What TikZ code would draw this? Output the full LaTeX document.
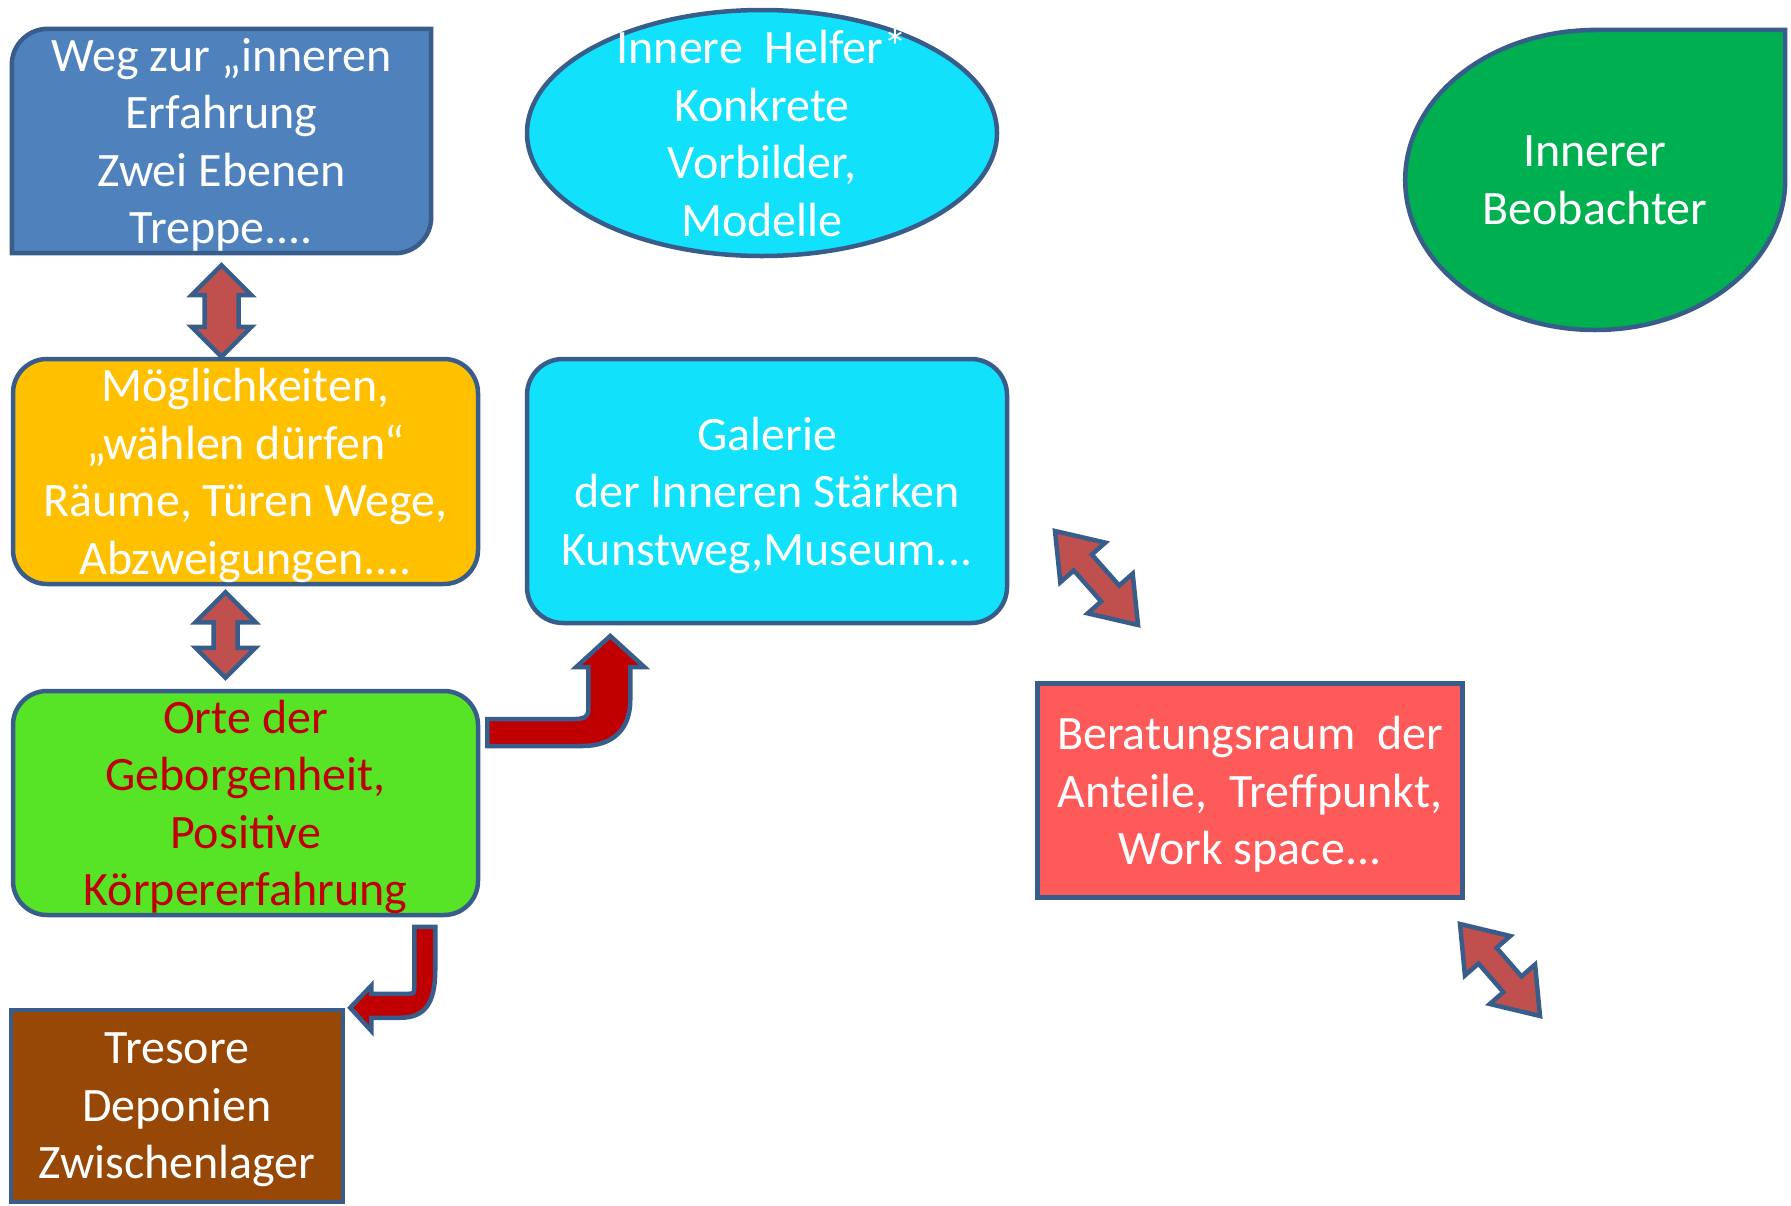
\documentclass[tikz,border=0pt]{standalone}
\usepackage{fontspec}
\setmainfont{Carlito}
\usepackage{tikz}
\usetikzlibrary{calc, backgrounds}
\definecolor{rim}{RGB}{56, 93, 138}
\definecolor{wegblue}{RGB}{79, 129, 189}
\definecolor{moegorange}{RGB}{255, 192, 0}
\definecolor{ortegreen}{RGB}{88, 228, 38}
\definecolor{helfercyan}{RGB}{18, 225, 252}
\definecolor{beobgreen}{RGB}{0, 176, 80}
\definecolor{beratred}{RGB}{255, 90, 90}
\definecolor{tresorbrown}{RGB}{151, 72, 7}
\definecolor{arrowred}{RGB}{192, 80, 77}
\definecolor{darkred}{RGB}{192, 0, 0}
\newcommand*{\lw}{4.5}

\begin{document}
\begin{tikzpicture}[
   x=1pt, y=-1pt,
   every node/.style={font=\fontsize{48}{57.5}\selectfont, text depth=0pt},
   box/.style={rectangle, align=center, text=white, inner sep=0,
               draw=rim, line width=\lw},
   roundbox/.style={box, rounded corners=34},
   textonly/.style={rectangle, align=center, text=white, inner sep=0},
   shapeline/.style={draw=rim, line width=\lw},
   twoway/.style={draw=rim, fill=arrowred, line width=\lw, line join=miter},
   bent/.style={draw=rim, fill=darkred, line width=\lw, line join=miter}
  ]

  \useasboundingbox (0, 0) rectangle (1791, 1205);

  % Boxes
  \node (weg) at (221.5, 141) [textonly, minimum width=419, minimum height=224]
    {Weg zur „inneren\\Erfahrung\\Zwei Ebenen\\Treppe....};

  \node (moeg) at (245.5, 471.5) [roundbox, fill=moegorange, minimum width=465, minimum height=225]
    {Möglichkeiten,\\„wählen dürfen“\\Räume, Türen Wege,\\Abzweigungen....};

  \node (orte) at (245.5, 803) [roundbox, fill=ortegreen, text=darkred, minimum width=465, minimum height=224]
    {Orte der\\Geborgenheit,\\Positive\\Körpererfahrung};

  \node (tresore) at (177, 1106) [box, fill=tresorbrown, minimum width=332, minimum height=192]
    {Tresore\\Deponien\\Zwischenlager};

  \node (helfer) at (762, 133) [textonly, minimum width=470, minimum height=246]
    {Innere~~Helfer*\\Konkrete\\Vorbilder,\\Modelle};

  \node (galerie) at (767, 491) [roundbox, fill=helfercyan, rounded corners=36, minimum width=480, minimum height=264]
    {Galerie\\der Inneren Stärken\\Kunstweg,Museum...};

  \node (berat) at (1250, 790.5) [box, fill=beratred, minimum width=425, minimum height=214]
    {Beratungsraum~~der\\Anteile,~~Treffpunkt,\\Work space...};

  \node (beob) at (1595, 180) [textonly, minimum width=380, minimum height=300]
    {Innerer\\Beobachter};

  \begin{scope}[on background layer]
    \draw[shapeline, fill=wegblue]
      ([yshift=-36]weg.north west) arc[start angle=180, end angle=270, radius=36]
      -- (weg.north east) -- ([yshift=36]weg.south east)
      arc[start angle=0, end angle=90, radius=36] -- (weg.south west) -- cycle;
    \draw[shapeline, fill=helfercyan] (helfer.center) ellipse [x radius=235, y radius=123];
    \draw[shapeline, fill=beobgreen]
      (beob.north) -- (beob.north east) -- (beob.east)
      arc[start angle=0, end angle=270, x radius=190, y radius=150] -- cycle;
  \end{scope}

  % Arrow ends
  \coordinate (w1) at ([yshift=-12]weg.south);
  \coordinate (m1) at (w1 |- moeg.north);
  \coordinate (m2) at ([xshift=-20, yshift=-6]moeg.south);
  \coordinate (o2) at ([yshift=11]m2 |- orte.north);
  \coordinate (g1) at (1055, 531);
  \coordinate (g2) at (1138, 625);
  \coordinate (r1) at (1460, 924);
  \coordinate (r2) at (1540, 1016);

  \foreach \B/\E/\hl/\hw/\sw in {w1/m1/30/30/17, m2/o2/30/30/12, g1/g2/42/30/12, r1/r2/42/30/12} {
    \draw[twoway] let \p1=(\B), \p2=(\E),
                      \n1={atan2(\y2-\y1,\x2-\x1)},
                      \n2={veclen(\x2-\x1,\y2-\y1)} in
      [shift={(\p1)}, rotate=\n1]
      (0,0) -- (\hl,\hw) -- (\hl,\sw) -- (\n2-\hl,\sw) -- (\n2-\hl,\hw) -- (\n2,0)
      -- (\n2-\hl,-\hw) -- (\n2-\hl,-\sw) -- (\hl,-\sw) -- (\hl,-\hw) -- cycle;
  }

  % Bent arrows
  \begin{scope}[shift={([xshift=6, yshift=70]orte.east)}]
    \draw[bent] (1,13) -- (96,13) .. controls (126,13) and (144,-3) .. (144,-33) -- (144,-66)
      -- (158,-66) -- (124,-97) -- (90,-66) -- (102,-66) -- (102,-22)
      .. controls (102,-16) and (97,-14) .. (89,-14) -- (1,-14) -- cycle;
  \end{scope}

  \begin{scope}[shift={(tresore.north east)}]
    \draw[bent] (69,-81) -- (90,-81) -- (90,-38) .. controls (90,-5) and (80,10) .. (55,10)
      -- (26,10) -- (26,23) -- (5,0) -- (26,-22) -- (26,-14) -- (61,-14)
      .. controls (69,-14) .. (69,-21) -- cycle;
  \end{scope}

\end{tikzpicture}
\end{document}
